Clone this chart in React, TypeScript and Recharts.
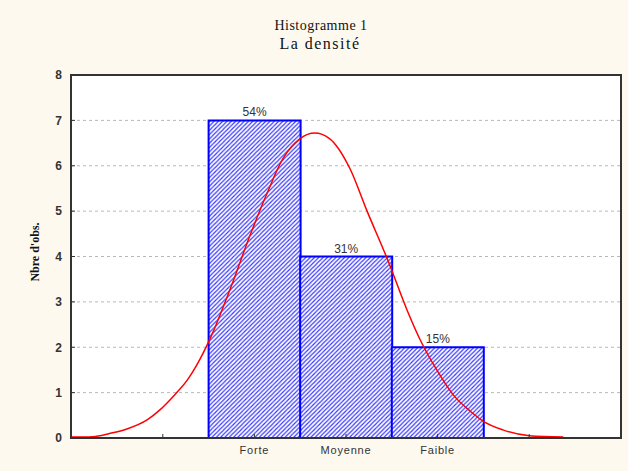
import { ComposedChart, Bar, Line, XAxis, YAxis, CartesianGrid, LabelList, ReferenceArea } from "recharts";

// categories (empty slots left and right keep the bars centred like the original)
const CATEGORIES = ["", "Forte", "Moyenne", "Faible", ""];
const COUNTS = [null, 7, 4, 2, null];
const PERCENTS = ["", "54%", "31%", "15%", ""];
const Y_TICKS = [0, 1, 2, 3, 4, 5, 6, 7, 8];

// normal curve (x in class units 0..6, y in counts)
const CURVE_X = [0, 0.24, 0.42, 0.61, 0.83, 0.97, 1.13, 1.27, 1.37, 1.52, 1.74, 1.95, 2.14, 2.31, 2.5, 2.66, 2.82, 3.04, 3.23, 3.45, 3.67, 3.81, 3.99, 4.17, 4.35, 4.49, 4.71, 5.0, 5.37];
const CURVE_Y = [0.02, 0.03, 0.1, 0.2, 0.4, 0.62, 0.95, 1.28, 1.6, 2.2, 3.3, 4.45, 5.4, 6.15, 6.6, 6.72, 6.6, 5.95, 5.0, 3.95, 2.8, 2.16, 1.5, 0.95, 0.6, 0.38, 0.18, 0.05, 0.02];

const barData = CATEGORIES.map((name, i) => ({ name, count: COUNTS[i], pct: PERCENTS[i] }));
const curveData = CURVE_X.map((u, i) => ({ u, v: CURVE_Y[i] }));

const AXIS = "#333";

export default function App() {
  return (
    <div style={{ position: "relative", width: 628, height: 471, background: "#FEF9EF" }}>
      <style>{`body{margin:0}`}</style>
      <div
        style={{
          position: "absolute",
          top: 18,
          left: 0,
          width: 642,
          textAlign: "center",
          fontFamily: "'Liberation Serif', serif",
          fontSize: 14,
          letterSpacing: 0.5,
          color: "#111",
          lineHeight: "16px",
        }}
      >
        Histogramme 1
      </div>
      <div
        style={{
          position: "absolute",
          top: 34,
          left: 0,
          width: 640,
          textAlign: "center",
          fontFamily: "'Liberation Serif', serif",
          fontSize: 16,
          letterSpacing: 1.5,
          color: "#111",
          lineHeight: "20px",
        }}
      >
        La densité
      </div>
      <ComposedChart
        width={628}
        height={471}
        data={barData}
        margin={{ top: 75, right: 7, bottom: 0, left: 0 }}
        barCategoryGap={0}
        barGap={0}
        style={{ position: "absolute", top: 0, left: 0 }}
      >
        <defs>
          <pattern id="hatch" patternUnits="userSpaceOnUse" width="4.3" height="4.3">
            <rect width="4.3" height="4.3" fill="#fff" />
            <path d="M-1,1 l2,-2 M0,4.3 l4.3,-4.3 M3.3,5.3 l2,-2" stroke="#3535ff" strokeWidth={1.2} />
          </pattern>
        </defs>
        <CartesianGrid
          vertical={false}
          fill="#fff"
          stroke="#b8b8b8"
          strokeDasharray="3 3"
          yAxisId="left"
        />
        <XAxis
          dataKey="name"
          xAxisId="cat"
          padding={{ left: 46, right: 46 }}
          height={33}
          tickSize={-4}
          tickMargin={12}
          axisLine={{ stroke: AXIS, strokeWidth: 2 }}
          tickLine={{ stroke: AXIS }}
          tick={{ fill: "#333", fontSize: 11, fontFamily: "'Liberation Sans', Arial", letterSpacing: 0.8 }}
          interval={0}
        />
        <XAxis xAxisId="curve" dataKey="u" type="number" domain={[0, 6]} hide allowDataOverflow />
        <YAxis
          yAxisId="left"
          domain={[0, 8]}
          ticks={Y_TICKS}
          width={71}
          tickSize={-4}
          tickMargin={13}
          axisLine={{ stroke: AXIS, strokeWidth: 2 }}
          tickLine={{ stroke: AXIS }}
          tick={{ fill: "#333", fontSize: 12, fontWeight: "bold", fontFamily: "'Liberation Sans', Arial" }}
          label={{
            content: () => (
              <text
                x={35}
                y={252}
                transform="rotate(-90, 35, 252)"
                textAnchor="middle"
                dominantBaseline="central"
                fontFamily="'Liberation Serif', serif"
                fontWeight="bold"
                fontSize={12}
                fill="#111"
              >
                Nbre d'obs.
              </text>
            ),
          }}
        />
        <Bar
          dataKey="count"
          xAxisId="cat"
          yAxisId="left"
          fill="url(#hatch)"
          stroke="#0000ff"
          strokeWidth={2}
          isAnimationActive={false}
        >
          <LabelList
            dataKey="pct"
            position="top"
            offset={4}
            fill="#333"
            fontSize={12}
            fontFamily="'Liberation Sans', Arial"
          />
        </Bar>
        <Line
          data={curveData}
          dataKey="v"
          xAxisId="curve"
          yAxisId="left"
          type="monotone"
          stroke="#ff0000"
          strokeWidth={1.5}
          dot={false}
          activeDot={false}
          isAnimationActive={false}
        />
        <ReferenceArea
          xAxisId="curve"
          yAxisId="left"
          x1={0}
          x2={6}
          y1={0}
          y2={8}
          fill="none"
          fillOpacity={0}
          stroke={AXIS}
          strokeWidth={2}
          ifOverflow="visible"
        />
      </ComposedChart>
    </div>
  );
}
